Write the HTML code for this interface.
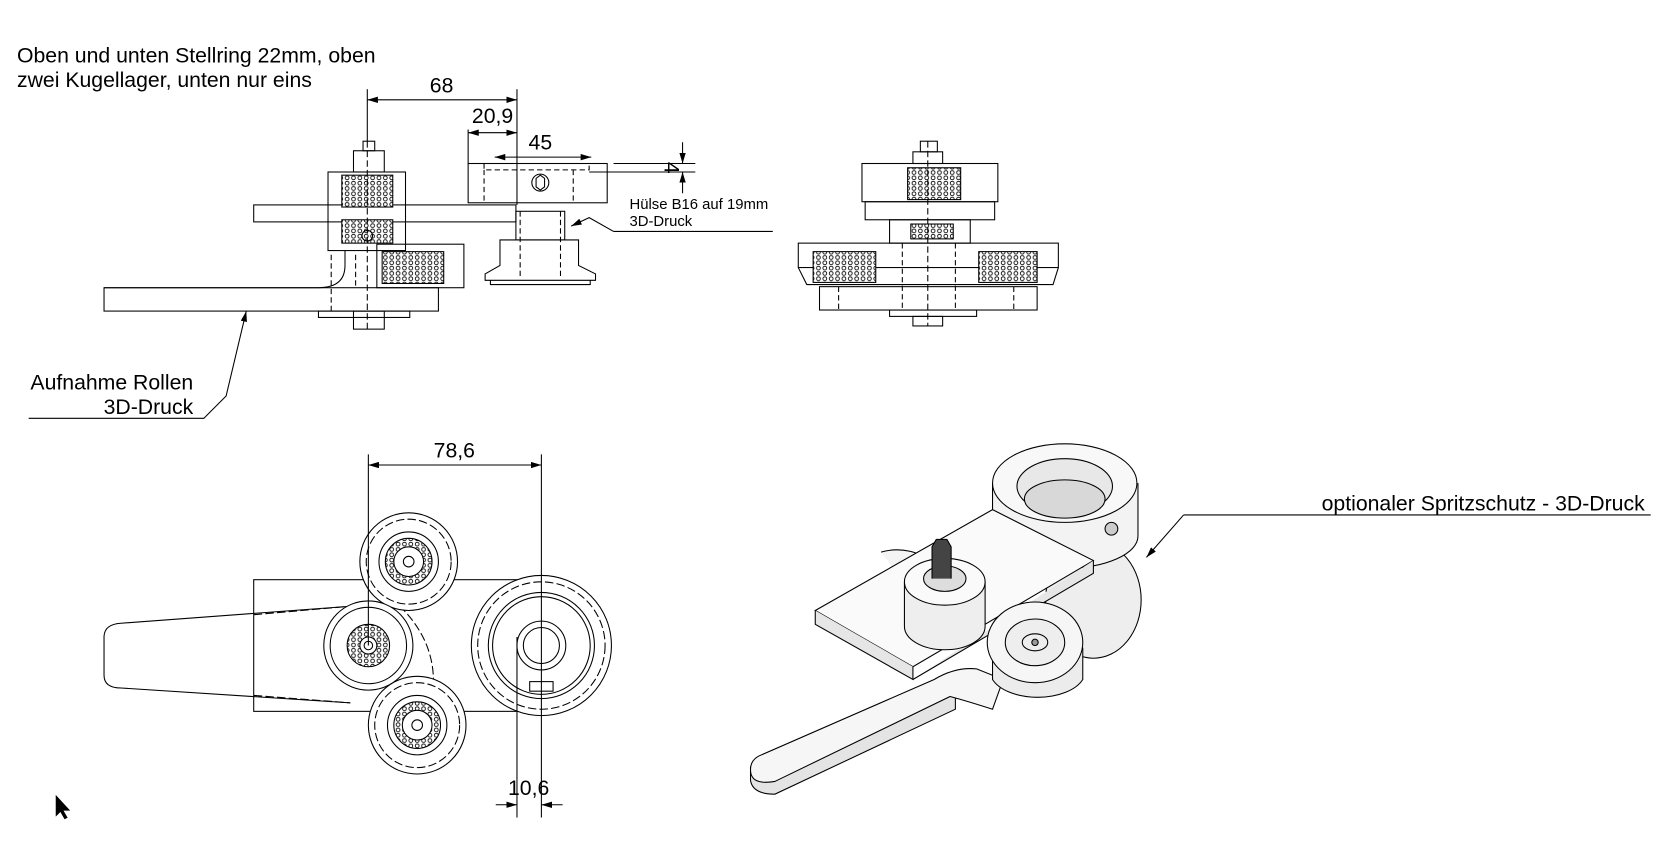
<!DOCTYPE html>
<html><head><meta charset="utf-8"><style>
html,body{margin:0;padding:0;background:#fff;width:1656px;height:843px;overflow:hidden}
svg{display:block}
text{font-family:"Liberation Sans",sans-serif;fill:#000}
</style></head><body>
<svg width="1656" height="843" viewBox="0 0 1560 794" preserveAspectRatio="none" xmlns="http://www.w3.org/2000/svg">
<defs>
<marker id="a" viewBox="0 0 10 6" refX="10" refY="3" markerWidth="10" markerHeight="6" orient="auto-start-reverse" markerUnits="userSpaceOnUse"><path d="M0,0L10,3L0,6z" fill="#000"/></marker>
<pattern id="h" width="6" height="5" patternUnits="userSpaceOnUse"><rect width="6" height="5" fill="#fff"/><circle cx="3" cy="2.5" r="1.8" fill="none" stroke="#000" stroke-width="0.8"/></pattern>
</defs>
<g fill="none" stroke="#000" stroke-width="1">
<!-- top-left view -->
<rect x="239" y="193" width="247" height="16" fill="#fff"/>
<rect x="309" y="162" width="73" height="74"/>
<rect x="322" y="165" width="48" height="30" fill="url(#h)"/>
<rect x="322" y="207" width="48" height="22" fill="url(#h)"/>
<rect x="333" y="142" width="29" height="20"/>
<rect x="342" y="133" width="11" height="9"/>
<line x1="346" y1="133" x2="346" y2="310" stroke-dasharray="6,3"/>
<path d="M98,271 H300 Q325,271 325,250 V236"/>
<rect x="98" y="271" width="315" height="22"/>
<rect x="300" y="293" width="86" height="6"/>
<rect x="333" y="293" width="29" height="17"/>
<rect x="355" y="230" width="82" height="41"/>
<rect x="360" y="237" width="58" height="30" fill="url(#h)"/>
<path d="M312,240 V293 M335,240 V271" stroke-dasharray="5,3"/>
<circle cx="346" cy="222" r="5"/>
<rect x="441" y="154" width="131" height="37" fill="#fff"/>
<path d="M456,154 V160 H555 V154 M456,160 V191 M540,160 V191" stroke-dasharray="5,3"/>
<circle cx="509" cy="172" r="8"/><path d="M505,168 L509,165 L513,168 V176 L509,179 L505,176Z"/>
<rect x="486" y="199" width="46" height="27"/>
<path d="M471,226 H545 V250 L561,258 V264 H457 V258 L471,250Z"/>
<path d="M462,264 V268 H556 V264"/>
<path d="M490,199 V262 M528,199 V262" stroke-dasharray="5,3"/>
<!-- dims top-left -->
<line x1="346" y1="84" x2="346" y2="133"/>
<line x1="487" y1="84" x2="487" y2="193"/>
<line x1="346" y1="94" x2="487" y2="94" marker-start="url(#a)" marker-end="url(#a)"/>
<line x1="441" y1="122" x2="441" y2="154"/>
<line x1="441" y1="125" x2="487" y2="125" marker-start="url(#a)" marker-end="url(#a)"/>
<line x1="466" y1="148" x2="557" y2="148" marker-start="url(#a)" marker-end="url(#a)"/>
<line x1="578" y1="154" x2="655" y2="154"/>
<line x1="555" y1="162" x2="655" y2="162"/>
<line x1="643" y1="134" x2="643" y2="154" marker-end="url(#a)"/>
<line x1="643" y1="182" x2="643" y2="162" marker-end="url(#a)"/>
<path d="M578,218 L555,205 L538,213" marker-end="url(#a)"/>
<line x1="578" y1="218" x2="728" y2="218"/>
<path d="M27,394 H192 L213,373 L232,293" marker-end="url(#a)"/>
<!-- top-right view -->
<rect x="867" y="133" width="16" height="10"/>
<rect x="860" y="143" width="28" height="11"/>
<rect x="812" y="154" width="128" height="36"/>
<rect x="855" y="158" width="50" height="30" fill="url(#h)"/>
<rect x="815" y="190" width="122" height="17"/>
<rect x="838" y="207" width="76" height="22"/>
<rect x="858" y="211" width="40" height="14" fill="url(#h)"/>
<rect x="752" y="229" width="245" height="23"/>
<path d="M752,252 L760,268 H992 L997,252"/>
<rect x="766" y="237" width="59" height="29" fill="url(#h)"/>
<rect x="922" y="237" width="55" height="29" fill="url(#h)"/>
<rect x="772" y="270" width="205" height="22"/>
<rect x="838" y="292" width="82" height="6"/>
<rect x="860" y="298" width="28" height="9"/>
<line x1="874" y1="133" x2="874" y2="307" stroke-dasharray="6,3"/>
<path d="M790,270 V292 M955,270 V292 M850,229 V292 M900,229 V292" stroke-dasharray="5,3"/>
<!-- bottom-left view -->
<rect x="239" y="546" width="249" height="124"/>
<path d="M330,571 L114,587 Q98,588 98,600 V636 Q98,648 114,648 L330,662"/>
<path d="M239,579 L330,571 M239,655 L330,662" stroke-dasharray="8,3"/>
<path d="M368,563 Q412,600 408,650" stroke-dasharray="8,3"/>
<circle cx="385" cy="529" r="46" fill="#fff"/><circle cx="385" cy="529" r="40" stroke-dasharray="8,3"/><circle cx="385" cy="529" r="28"/><circle cx="385" cy="529" r="22" fill="url(#h)"/><circle cx="385" cy="529" r="14" fill="#fff"/><circle cx="385" cy="529" r="5"/>
<circle cx="347" cy="608" r="42" fill="#fff"/><circle cx="347" cy="608" r="36"/><circle cx="347" cy="608" r="20" fill="url(#h)"/><circle cx="347" cy="608" r="8" fill="#fff"/><circle cx="347" cy="608" r="4"/>
<circle cx="393" cy="683" r="46" fill="#fff"/><circle cx="393" cy="683" r="40" stroke-dasharray="8,3"/><circle cx="393" cy="683" r="28"/><circle cx="393" cy="683" r="22" fill="url(#h)"/><circle cx="393" cy="683" r="14" fill="#fff"/><circle cx="393" cy="683" r="5"/>
<circle cx="510" cy="608" r="66" fill="#fff"/><circle cx="510" cy="608" r="60" stroke-dasharray="8,3"/><circle cx="510" cy="608" r="50"/><circle cx="510" cy="608" r="46"/><circle cx="510" cy="608" r="23"/><circle cx="510" cy="608" r="17"/>
<rect x="499" y="642" width="22" height="9"/>
<line x1="347" y1="428" x2="347" y2="608"/>
<line x1="510" y1="428" x2="510" y2="770"/>
<line x1="487" y1="600" x2="487" y2="770"/>
<line x1="347" y1="438" x2="510" y2="438" marker-start="url(#a)" marker-end="url(#a)"/>
<line x1="467" y1="758" x2="487" y2="758" marker-end="url(#a)"/>
<line x1="530" y1="758" x2="510" y2="758" marker-end="url(#a)"/>
<!-- iso view -->
<path d="M830,520 A32,20 0 1,1 860,560" fill="#f4f4f4"/>
<ellipse cx="1030" cy="565" rx="45" ry="55" fill="#eee"/>
<path d="M707,722 V735 Q709,748 730,748 L900,668 V655" fill="#e4e4e4"/>
<path d="M715,712 L880,640 Q900,628 920,630 L945,640 L935,668 Q910,660 895,656 L730,736 Q707,740 707,725 Q707,716 715,712Z" fill="#f6f6f6"/>
<path d="M935,455 V505 A68,30 0 0,0 1072,505 V455" fill="#f3f3f3"/>
<ellipse cx="1003" cy="455" rx="68" ry="37" fill="#f8f8f8"/>
<ellipse cx="1003" cy="458" rx="45" ry="26" fill="#e8e8e8"/>
<ellipse cx="1003" cy="470" rx="38" ry="18" fill="#d8d8d8"/>
<circle cx="1047" cy="498" r="6" fill="#ccc"/>
<path d="M768,575 L935,480 L1030,528 L860,628Z" fill="#fafafa"/>
<path d="M768,575 V588 L860,640 V628 M860,640 L1030,540 V528" fill="#e6e6e6"/>
<path d="M852,548 V590 A38,22 0 0,0 928,590 V548" fill="#eee"/>
<ellipse cx="890" cy="548" rx="38" ry="22" fill="#fafafa"/>
<ellipse cx="890" cy="545" rx="20" ry="12" fill="#ddd"/>
<path d="M878,545 V515 L882,508 H892 L896,515 V545" fill="#444"/>
<path d="M935,610 V640 A45,25 0 0,0 1020,640 V610" fill="#ececec"/>
<ellipse cx="975" cy="605" rx="45" ry="38" fill="#f6f6f6"/>
<ellipse cx="975" cy="605" rx="28" ry="22" fill="#eee"/>
<ellipse cx="975" cy="605" rx="12" ry="8"/>
<circle cx="975" cy="605" r="3" fill="#999"/>
<!-- leader iso -->
<path d="M1115,485 L1080,525" marker-end="url(#a)"/>
<line x1="1115" y1="485" x2="1555" y2="485"/>
<!-- cursor -->
<path d="M53,750 V768 L57,764 L61,771 L63,770 L59,763 L65,763Z" fill="#000"/>
</g>
<g font-size="20">
<text x="16" y="59">Oben und unten Stellring 22mm, oben</text>
<text x="16" y="82">zwei Kugellager, unten nur eins</text>
<text x="416" y="87" text-anchor="middle">68</text>
<text x="464" y="116" text-anchor="middle">20,9</text>
<text x="509" y="141" text-anchor="middle">45</text>
<text x="182" y="367" text-anchor="end">Aufnahme Rollen</text>
<text x="182" y="390" text-anchor="end">3D-Druck</text>
<text x="428" y="431" text-anchor="middle">78,6</text>
<text x="498" y="749" text-anchor="middle">10,6</text>
<text x="1245" y="481">optionaler Spritzschutz - 3D-Druck</text>
<text transform="translate(624,158) rotate(90)" text-anchor="middle" dy="-2">4</text>
</g>
<g font-size="14">
<text x="593" y="197">Hülse B16 auf 19mm</text>
<text x="593" y="213">3D-Druck</text>
</g>
</svg>
</body></html>
